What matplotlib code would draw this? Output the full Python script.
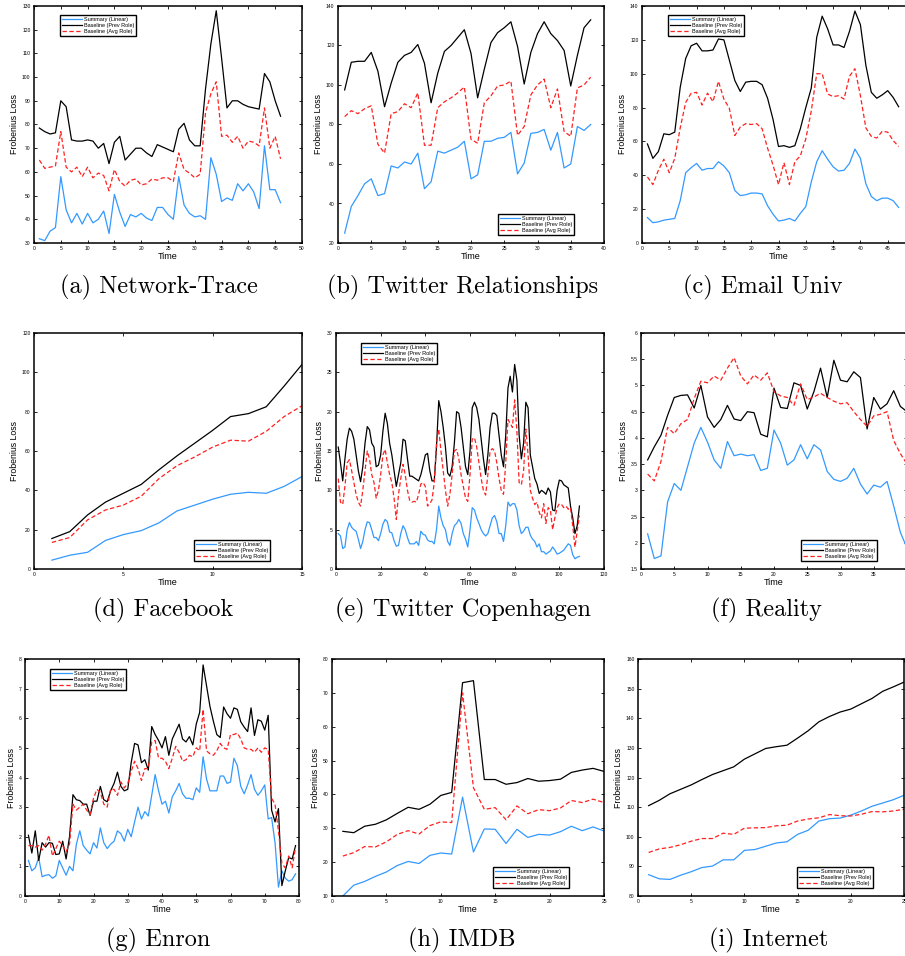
import numpy as np
import matplotlib
matplotlib.use("Agg")
import matplotlib.pyplot as plt
from matplotlib.ticker import FuncFormatter

plt.rcParams['font.family'] = ['Liberation Sans', 'DejaVu Sans']

labels = ['Summary (Linear)', 'Baseline (Prev Role)', 'Baseline (Avg Role)']

# (a) Network-Trace
net_sum = [31.8, 31, 35, 36.5, 58, 44, 38.5, 42.5, 38, 42.5, 38.5, 40, 43.5, 34, 50.5, 43,
           37, 42, 41, 42.5, 40.5, 39.5, 45, 45, 42, 40, 58, 46, 42.5, 41, 41.5, 40, 66, 59,
           47.5, 49, 48, 55, 52, 55, 51.5, 44.5, 71, 52.5, 52.5, 47]
net_prev = [78.5, 77, 76, 76.5, 90, 87.5, 73.5, 73, 73, 73.5, 73, 70, 72, 63.5, 72.5, 75,
            65, 67.5, 70, 70, 68, 66.5, 71.5, 70.5, 69.5, 68.5, 78, 80.5, 73.5, 71, 71, 95,
            114, 128, 108, 87, 90, 90, 88.5, 87.5, 87, 86.5, 101.5, 98, 90, 83.5]
net_avg = [65, 61.5, 62, 62.5, 77, 62, 60, 62, 58, 62, 57.5, 59.5, 58.5, 52, 61, 56, 54,
           56.5, 57, 54.5, 55, 57, 56.5, 57.5, 57.5, 56, 68, 61, 59.5, 57.5, 59, 85, 93, 98,
           75, 75.5, 72.5, 75, 70, 73, 72.5, 71, 87, 70, 75, 65.5]

# (b) Twitter Relationships
twr_sum = [25, 38.5, 44, 50, 52.5, 44, 45, 59, 58, 61, 60, 65.5, 47.5, 51, 66.5, 65.5, 67,
           68.5, 71.5, 52.5, 54.5, 71.5, 71.5, 73, 73.5, 76, 55, 60.5, 75.5, 76, 77.5, 67,
           76, 58, 60, 79, 77, 80]
twr_prev = [97.5, 111.5, 112, 112, 116.5, 107, 89, 101, 111.5, 115, 116.5, 120.5, 111, 91,
            106, 117, 120, 124, 128, 116, 93.5, 108, 121.5, 126.5, 129, 132, 119.5, 100.5,
            116.5, 126, 132, 126, 122.5, 117.5, 99.5, 115, 129, 133]
twr_avg = [84, 87, 85.5, 88, 89.5, 70, 65.5, 85.5, 86.5, 90.5, 88.5, 96, 69.5, 69.5, 88.5,
           91.5, 93.5, 96, 99, 72.5, 70.5, 91, 94.5, 99.5, 100, 102, 74.5, 79, 95, 100, 103,
           88.5, 98, 76.5, 74, 98.5, 100, 104]

# (c) Email Univ
email_sum = [15, 12, 12.5, 13.5, 14, 14.5, 25, 41.5, 44.5, 47, 43, 44, 44, 48, 45.5, 41.5,
             31, 28, 28.5, 29.5, 29.5, 29, 22, 17, 13, 13.5, 14.5, 13, 17.5, 21.5, 36, 48,
             54.5, 49.5, 45, 42.5, 43, 47, 55.5, 50, 35, 27.5, 25, 26.5, 26.5, 25, 21]
email_prev = [58.5, 50, 54, 64.5, 64, 65.5, 92, 109, 116.5, 118, 113.5, 113.5, 114, 120.5,
              120, 108, 96, 89.5, 95, 95.5, 95.5, 93.5, 85.5, 73, 57, 57.5, 56.5, 57.5, 67.5,
              80, 91.5, 121.5, 134, 126.5, 117, 117, 115.5, 125, 137, 129, 105, 89, 85.5,
              87.5, 90, 86, 80.5]
email_avg = [39, 34.5, 43, 49.5, 41.5, 50, 68, 83, 88.5, 89, 81.5, 88.5, 83.5, 95.5, 85,
             79.5, 63.5, 68.5, 70.5, 70, 70.5, 67.5, 56, 46, 34.5, 47.5, 34.5, 48, 51.5, 61.5,
             78, 100, 100, 88, 86.5, 87, 85, 98.5, 103, 87, 68, 63, 62, 66, 65.5, 60.5, 57]

# (d) Facebook
fb_sum = [4.5, 7, 8.5, 14.5, 17.5, 19.5, 23.5, 29.5, 32.5, 35.5, 38, 39, 38.5, 42, 47]
fb_prev = [15.5, 19, 27.5, 34, 38.5, 43, 50.5, 57.5, 64, 70.5, 77.5, 79, 82.5, 93, 104]
fb_avg = [13.5, 16, 25, 30, 32.5, 37, 46, 52.5, 57, 62, 65.5, 65, 70, 77.5, 83]

# (e) Twitter Copenhagen
cph_sum = [4.5, 4.2, 2.6, 2.8, 5, 5.9, 5.3, 5, 4.8, 3.8, 2.6, 3.5, 5, 6, 5.9, 5, 4, 4, 3.6,
           4.5, 5.7, 6.3, 6, 4.7, 4.6, 3.6, 2.9, 3, 4.5, 5.5, 5, 4, 3.2, 3.2, 3.2, 3.5, 3,
           4.8, 4.4, 4.3, 3.7, 3.5, 3.5, 3.2, 5, 8, 6.5, 5.5, 5, 3.5, 3, 4.5, 5.5, 5.8, 6.3,
           5.8, 4.5, 3.8, 2.8, 5, 7.8, 7.5, 6.5, 5.8, 5, 4.5, 4.2, 4.5, 5.5, 6.5, 6.8, 6, 4.5,
           4.5, 3.5, 5.5, 8.5, 8, 8.3, 8.3, 7.5, 5.5, 4.5, 4.8, 5.3, 5.3, 4.3, 3.8, 3.5, 2.8,
           3.2, 2.2, 2.2, 1.9, 2.1, 2.3, 2.8, 2.4, 1.9, 2, 2.2, 2.4, 2.8, 3.2, 3, 1.8, 1.3,
           1.5, 1.6]
cph_prev = [15.5, 13.5, 11.2, 14, 16.5, 17.9, 17.5, 16.5, 14.5, 12.5, 11.1, 13, 16, 18.1,
            17.7, 16, 15.5, 13, 13.2, 14.5, 17.5, 19.8, 18.5, 16, 14.5, 12.5, 10.5, 12, 13.5,
            16.5, 16.3, 14, 11.8, 11.8, 11.6, 11.4, 11.2, 12, 13.2, 14.5, 14.7, 12.5, 11.2,
            11.2, 15.5, 21.4, 20, 18, 15.5, 12.2, 11.8, 13, 16, 20, 19.8, 18, 15.5, 13, 12,
            15, 20.5, 21.2, 20.5, 19, 16.5, 14, 12, 14.5, 18, 19.8, 19.8, 19.5, 17, 14.5, 13,
            17, 23, 24.5, 22.5, 26, 24, 17, 14, 16, 21.2, 20.5, 14.5, 13, 11.5, 10.8, 9.6, 10,
            9.8, 9.5, 10.3, 9.8, 7.5, 7.4, 10, 11.3, 11.2, 10.7, 10.5, 10.3, 8, 6.5, 4.5, 5.5,
            8]
cph_avg = [11.5, 8.5, 8.2, 10.5, 13.5, 13.9, 12.5, 11, 9.5, 8.5, 8, 10, 12.5, 15, 14, 12,
           11, 9, 10, 12, 14.5, 15.2, 13.5, 12, 11, 9, 6.3, 9.5, 11.5, 13.3, 12, 10, 8.7, 8.5,
           8.6, 8.5, 9.5, 10.8, 11, 10.5, 8, 8.3, 8.8, 11, 16, 17.8, 15, 12.5, 10, 8, 9.5, 12,
           15, 15.2, 14, 12, 10.5, 9, 8.6, 12, 16.5, 16.7, 15.5, 13.5, 11.5, 10, 9.4, 12, 15,
           15.3, 15, 13.5, 11.5, 10, 9.5, 13.5, 19, 18.5, 18, 21.5, 17.5, 11, 10.7, 12.5,
           17.8, 14.5, 10, 9, 8.2, 8.5, 7.2, 6.5, 8.3, 5.8, 7.8, 7.5, 5, 6.5, 7.8, 8.3, 8.2,
           7.8, 8, 7.6, 7.8, 5.5, 2.8, 4.8, 6.8]

# (f) Reality
real_sum = [2.17, 1.7, 1.75, 2.78, 3.13, 3.0, 3.45, 3.9, 4.2, 3.92, 3.58, 3.42, 3.93, 3.66,
            3.69, 3.66, 3.68, 3.38, 3.42, 4.15, 3.9, 3.48, 3.58, 3.87, 3.6, 3.87, 3.77, 3.36,
            3.21, 3.17, 3.23, 3.42, 3.12, 2.93, 3.1, 3.06, 3.17, 2.7, 2.2, 1.9]
real_prev = [3.58, 3.83, 4.05, 4.43, 4.77, 4.81, 4.82, 4.57, 5.0, 4.4, 4.2, 4.35, 4.62, 4.36,
             4.33, 4.5, 4.48, 4.07, 4.02, 4.95, 4.58, 4.56, 5.05, 5.0, 4.55, 4.88, 5.33, 4.77,
             5.48, 5.1, 5.07, 5.26, 5.15, 4.17, 4.77, 4.55, 4.65, 4.9, 4.6, 4.5]
real_avg = [3.31, 3.18, 3.55, 4.2, 4.08, 4.27, 4.35, 4.75, 5.08, 5.05, 5.18, 5.1, 5.33, 5.53,
            5.18, 5.03, 5.2, 5.1, 5.24, 4.88, 4.8, 4.77, 4.62, 5.03, 4.73, 4.78, 4.85, 4.77,
            4.7, 4.65, 4.67, 4.5, 4.35, 4.22, 4.42, 4.45, 4.5, 3.95, 3.7, 3.5]

# (g) Enron
enron_sum = [1.2, 0.85, 0.95, 1.3, 0.65, 0.7, 0.72, 0.6, 0.68, 1.2, 0.95, 0.7, 1.0, 0.85, 1.75,
             2.2, 1.7, 1.55, 1.42, 1.8, 1.62, 2.3, 1.8, 1.6, 1.75, 1.85, 2.2, 2.1, 1.85, 2.25,
             2.0, 2.5, 3.0, 2.6, 2.85, 2.7, 3.4, 4.1, 3.55, 3.1, 3.2, 2.8, 3.35, 3.55, 3.8,
             3.45, 3.3, 3.3, 3.25, 3.65, 3.5, 4.7, 3.95, 3.55, 3.55, 3.55, 4.05, 4.05, 3.8,
             3.85, 4.65, 4.4, 3.7, 3.45, 3.75, 4.1, 3.6, 3.4, 3.55, 3.75, 2.6, 2.65, 1.8, 0.3,
             0.85, 0.6, 0.5, 0.55, 0.75]
enron_prev = [2.05, 1.45, 2.2, 1.2, 1.8, 1.65, 1.8, 1.78, 1.4, 1.42, 1.85, 1.25, 2.0, 3.42,
              3.25, 3.22, 3.1, 3.1, 2.72, 3.2, 3.2, 3.7, 3.25, 3.18, 3.55, 3.8, 4.18, 3.7,
              3.55, 3.6, 4.5, 5.15, 5.1, 4.5, 4.6, 4.25, 5.72, 5.45, 5.25, 5.0, 5.38, 4.75,
              5.3, 5.55, 5.8, 5.3, 5.2, 5.38, 5.1, 5.8, 6.2, 7.8, 7.1, 6.4, 5.9, 5.45, 5.35,
              6.38, 6.15, 6.0, 6.35, 6.3, 5.88, 5.7, 5.55, 6.35, 5.42, 5.95, 5.9, 5.6, 6.1,
              2.9, 2.5, 2.95, 0.35, 0.85, 1.3, 1.25, 1.7]
enron_avg = [1.7, 1.7, 1.65, 1.7, 1.55, 1.75, 2.05, 1.35, 1.6, 1.85, 1.7, 1.5, 1.75, 3.1, 2.9,
             3.0, 3.1, 2.9, 2.75, 3.3, 3.6, 3.5, 3.1, 3.0, 3.6, 3.6, 3.4, 3.85, 3.65, 3.8, 4.2,
             4.55, 4.3, 3.9, 4.3, 4.3, 5.2, 5.25, 4.65, 4.65, 4.55, 4.3, 4.65, 5.05, 4.85,
             4.55, 4.6, 4.75, 4.7, 5.0, 4.9, 6.3, 4.9, 4.8, 4.75, 4.9, 5.15, 5.0, 4.95, 5.45,
             5.45, 5.5, 5.3, 5.0, 4.95, 4.95, 4.85, 5.0, 4.85, 5.0, 4.95, 3.3, 3.1, 2.2, 1.1,
             0.95, 1.35, 0.95, 1.65]

# (h) IMDB
imdb_sum = [10, 13.2, 14.3, 15.8, 17.1, 19, 20.2, 19.6, 22, 22.7, 22.4, 39.2, 23, 29.8, 29.7,
            25.5, 29.7, 27.3, 28.2, 28, 29, 30.6, 29.3, 30.4, 29.2]
imdb_prev = [29.1, 28.7, 30.6, 31.2, 32.5, 34.4, 36.2, 35.6, 37.1, 39.7, 40.6, 73, 73.6, 44.4,
             44.4, 43, 43.5, 44.7, 43.9, 44.1, 44.5, 46.5, 47.2, 47.7, 46.8]
imdb_avg = [21.8, 22.8, 24.6, 24.5, 26, 28.2, 29.3, 28.3, 30.8, 31.9, 31.7, 70, 42, 35.6, 36.1,
            32.5, 36.6, 34.3, 35.5, 35.2, 36, 38.2, 37.6, 38.6, 37.6]

# (i) Internet
inet_sum = [87.2, 85.8, 85.6, 87, 88.2, 89.6, 90.1, 92.2, 92.2, 95.4, 95.7, 96.8, 97.9, 98.3,
            100.8, 102.2, 105.3, 106.1, 106.3, 107.3, 108.7, 110.3, 111.4, 112.5, 114]
inet_prev = [110.5, 112.3, 114.5, 116, 117.5, 119.3, 121, 122.3, 123.6, 126.2, 128, 129.8,
             130.4, 130.9, 133.3, 135.8, 138.8, 140.6, 142.1, 143.1, 144.9, 146.7, 149.1,
             150.6, 152.2]
inet_avg = [94.7, 95.9, 96.4, 97.3, 98.5, 99.4, 99.4, 101.2, 100.8, 102.9, 103, 103.1, 103.7,
            103.9, 105.3, 106, 106.4, 107.5, 107.1, 107, 107.6, 108.5, 108.4, 108.7, 109.3]

W, H = 905, 956
fig = plt.figure(figsize=(W / 100, H / 100), dpi=100)


def px_axes(x0, y0, x1, y1):
    return fig.add_axes([x0 / W, 1 - y1 / H, (x1 - x0) / W, (y1 - y0) / H])


def panel(box, series, xlim, xstep, ylim, ystep, leg_xy, caption, cap_xy, xlab_max=None):
    ax = px_axes(*box)
    s, p, a = series
    ax.plot(np.arange(1, len(s) + 1), s, color='#3399ff', lw=0.9, label=labels[0])
    ax.plot(np.arange(1, len(p) + 1), p, color='black', lw=0.9, label=labels[1])
    ax.plot(np.arange(1, len(a) + 1), a, color='#ff2020', lw=0.9, ls=(0, (3.5, 2)),
            label=labels[2])
    ax.set_xlim(*xlim)
    ax.set_ylim(*ylim)
    ax.set_xticks(np.arange(xlim[0], xlim[1] + 0.001, xstep))
    ax.set_yticks(np.arange(ylim[0], ylim[1] + 0.001, ystep))
    # labels of ticks that fall past the cropped right edge are not drawn
    top = xlab_max if xlab_max is not None else xlim[1]
    ax.xaxis.set_major_formatter(FuncFormatter(lambda v, _: '%g' % v if v <= top + 1e-9 else ''))
    ax.yaxis.set_major_formatter(FuncFormatter(lambda v, _: '%g' % v))
    ax.tick_params(direction='in', top=True, right=True, length=2.5, width=0.6,
                   labelsize=3.6, pad=2.5)
    for sp in ax.spines.values():
        sp.set_linewidth(1.1)
    ax.set_xlabel('Time', fontsize=6.5, labelpad=0.5)
    ax.set_ylabel('Frobenius Loss', fontsize=6.3, labelpad=2)
    lx, ly = leg_xy
    leg = ax.legend(loc='upper left', bbox_to_anchor=(lx / W, 1 - ly / H),
                    bbox_transform=fig.transFigure, fontsize=4, handlelength=3.6,
                    handletextpad=0.4, borderpad=0.35, labelspacing=0.15,
                    fancybox=False, framealpha=1, borderaxespad=0)
    leg.get_frame().set_edgecolor('black')
    leg.get_frame().set_linewidth(1.0)
    fig.text(cap_xy[0] / W, 1 - cap_xy[1] / H, caption, family='cmr10', fontsize=17.5,
             ha='center', va='center')
    return ax


panel((34, 6, 302, 243), (net_sum, net_prev, net_avg), (0, 50), 5, (30, 130), 10,
      (60, 15), '(a) Network-Trace', (159, 287))
panel((338, 6, 604, 243), (twr_sum, twr_prev, twr_avg), (0, 40), 5, (20, 140), 20,
      (498, 214), '(b) Twitter Relationships', (463, 287))
panel((642, 6, 915, 243), (email_sum, email_prev, email_avg), (0, 50), 5, (0, 140), 20,
      (668, 15), '(c) Email Univ', (763, 287), xlab_max=45)
panel((34, 333, 302, 569), (fb_sum, fb_prev, fb_avg), (0, 15), 5, (0, 120), 20,
      (194, 540), '(d) Facebook', (163, 610))
panel((336, 333, 604, 569), (cph_sum, cph_prev, cph_avg), (0, 120), 20, (0, 30), 5,
      (361, 343), '(e) Twitter Copenhagen', (463, 610))
panel((641, 333, 907, 569), (real_sum, real_prev, real_avg), (0, 40), 5, (1.5, 6), 0.5,
      (801, 540), '(f) Reality', (766, 610), xlab_max=35)
panel((25, 659, 299, 896), (enron_sum, enron_prev, enron_avg), (0, 80), 10, (0, 8), 1,
      (50, 669), '(g) Enron', (158, 940))
panel((332, 659, 604, 896), (imdb_sum, imdb_prev, imdb_avg), (0, 25), 5, (10, 80), 10,
      (493, 867), '(h) IMDB', (462, 940))
panel((638, 659, 904, 896), (inet_sum, inet_prev, inet_avg), (0, 25), 5, (80, 160), 10,
      (797, 867), '(i) Internet', (769, 940))

fig.savefig('out.png', dpi=100)
